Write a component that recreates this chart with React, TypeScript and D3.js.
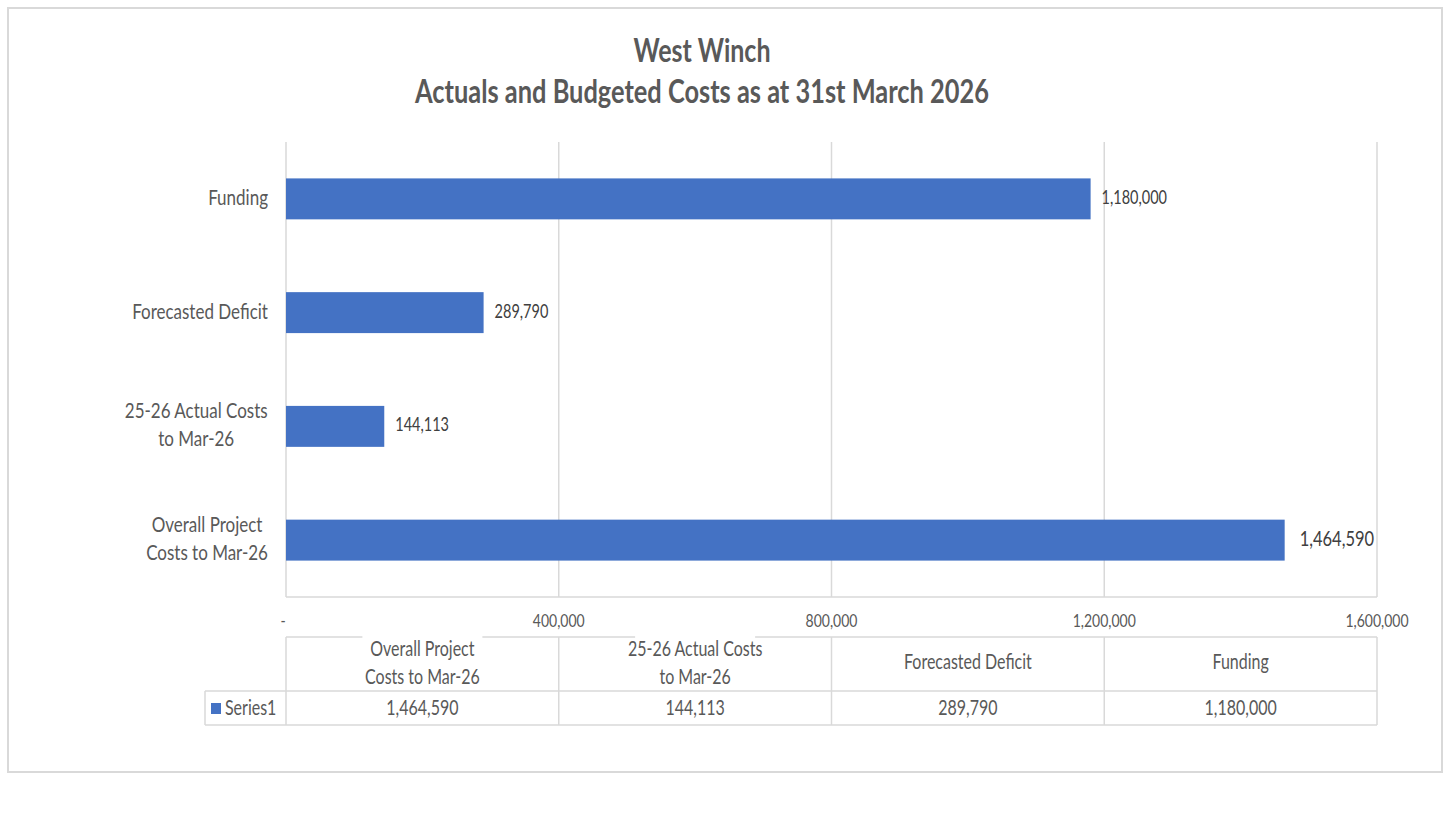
import * as d3 from "d3";

const titleLines = ["West Winch", "Actuals and Budgeted Costs as at 31st March 2026"];
const categories = [
  "Overall Project Costs to Mar-26",
  "25-26 Actual Costs to Mar-26",
  "Forecasted Deficit",
  "Funding",
];
const categoryLines = [
  ["Overall Project", "Costs to Mar-26"],
  ["25-26 Actual Costs", "to Mar-26"],
  ["Forecasted Deficit"],
  ["Funding"],
];
const values = [1464590, 144113, 289790, 1180000];
const xTicks = [0, 400000, 800000, 1200000, 1600000];
const seriesName = "Series1";

const FONT = "Lato, 'Open Sans', sans-serif";
const SY = 1.28; // text in the reference is drawn taller than wide
const GRID = "#d9d9d9";
const TEXT = "#595959";
const BAR = "#4472c4";

const plot = { left: 286, right: 1377, top: 142, bottom: 597 };
const table = { top: 637, mid: 691, bottom: 725, legendLeft: 205 };

const fmt = d3.format(",");
const tickFmt = (v: number) => (v === 0 ? "-" : fmt(v));

// measure text width so wrapped axis labels can be centred in a right-aligned block
let ctx: CanvasRenderingContext2D | null = null;
function textWidth(s: string, size: number) {
  if (!ctx) ctx = document.createElement("canvas").getContext("2d");
  if (!ctx) return s.length * size * 0.48;
  ctx.font = `${size}px Lato, 'Open Sans', sans-serif`;
  return ctx.measureText(s).width;
}

function T({
  x,
  y,
  size,
  anchor = "start",
  fill = TEXT,
  weight = 400,
  children,
}: {
  x: number;
  y: number;
  size: number;
  anchor?: string;
  fill?: string;
  weight?: number;
  children: string;
}) {
  return (
    <text
      transform={`translate(${x},${y}) scale(1,${SY})`}
      fontFamily={FONT}
      fontSize={size}
      fontWeight={weight}
      textAnchor={anchor}
      fill={fill}
    >
      {children}
    </text>
  );
}

export default function App() {
  const x = d3.scaleLinear().domain([0, 1600000]).range([plot.left, plot.right]);

  // Funding on top, Overall at the bottom
  const y = d3
    .scaleBand<string>()
    .domain([...categories].reverse())
    .range([plot.top, plot.bottom])
    .paddingInner(0.64)
    .paddingOuter(0.32);

  // data table columns follow category order
  const col = d3.scaleBand<string>().domain(categories).range([plot.left, plot.right]);

  return (
    <svg
      width={1444}
      height={814}
      style={{ position: "fixed", left: 0, top: 0, background: "#fff" }}
    >
      {/* chart area border */}
      <rect x={8} y={8} width={1434} height={764} fill="#fff" stroke={GRID} strokeWidth={2} />

      {/* title */}
      <T x={702} y={62} size={25} anchor="middle" weight={700}>
        {titleLines[0]}
      </T>
      <T x={702} y={103} size={25.4} anchor="middle" weight={700}>
        {titleLines[1]}
      </T>

      {/* vertical gridlines */}
      {xTicks.map((t) => (
        <line
          key={t}
          x1={x(t)}
          x2={x(t)}
          y1={plot.top}
          y2={plot.bottom}
          stroke={GRID}
          strokeWidth={1.5}
        />
      ))}
      <line x1={plot.left} x2={plot.right} y1={plot.bottom} y2={plot.bottom} stroke={GRID} strokeWidth={1.5} />

      {/* bars */}
      {categories.map((c, i) => (
        <rect
          key={c}
          x={x(0)}
          y={y(c)!}
          width={x(values[i]) - x(0)}
          height={y.bandwidth()}
          fill={BAR}
        />
      ))}

      {/* data labels */}
      {categories.map((c, i) => {
        const big = values[i] === d3.max(values);
        return (
          <T
            key={c}
            x={x(values[i]) + (big ? 15 : 11)}
            y={y(c)! + y.bandwidth() / 2 + (big ? 6 : 5)}
            size={big ? 16.5 : 14.5}
            fill="#404040"
          >
            {fmt(values[i])}
          </T>
        );
      })}

      {/* category axis labels */}
      {categories.map((c, i) => {
        const lines = categoryLines[i];
        const cy = y(c)! + y.bandwidth() / 2;
        const lh = 28;
        const y0 = cy - ((lines.length - 1) * lh) / 2 + 6;
        const w = d3.max(lines, (ln) => textWidth(ln, 17)) ?? 0;
        const cx = 268 - w / 2;
        return lines.map((ln, j) => (
          <T key={c + j} x={cx} y={y0 + j * lh} size={17} anchor="middle">
            {ln}
          </T>
        ));
      })}

      {/* value axis tick labels */}
      {xTicks.map((t) => (
        <T key={t} x={x(t) - (t === 0 ? 3 : 0)} y={627} size={14} anchor="middle">
          {tickFmt(t)}
        </T>
      ))}

      {/* data table */}
      <line x1={plot.left} x2={plot.right} y1={table.top} y2={table.top} stroke={GRID} strokeWidth={1.5} />
      <line x1={table.legendLeft} x2={plot.right} y1={table.mid} y2={table.mid} stroke={GRID} strokeWidth={1.5} />
      <line x1={table.legendLeft} x2={plot.right} y1={table.bottom} y2={table.bottom} stroke={GRID} strokeWidth={1.5} />
      <line x1={table.legendLeft} x2={table.legendLeft} y1={table.mid} y2={table.bottom} stroke={GRID} strokeWidth={1.5} />
      {xTicks.map((t) => (
        <line key={t} x1={x(t)} x2={x(t)} y1={table.top} y2={table.bottom} stroke={GRID} strokeWidth={1.5} />
      ))}
      {categories.map((c, i) => {
        const lines = categoryLines[i];
        const cx = col(c)! + col.bandwidth() / 2;
        const lh = 28;
        const y0 = lines.length > 1 ? 656 : 669;
        return (
          <g key={c}>
            {lines.length > 1 && (
              <rect x={cx - 60} y={table.top - 2} width={120} height={6} fill="#fff" />
            )}
            {lines.map((ln, j) => (
              <T key={j} x={cx} y={y0 + j * lh} size={16} anchor="middle">
                {ln}
              </T>
            ))}
            <T x={cx} y={715} size={16} anchor="middle">
              {fmt(values[i])}
            </T>
          </g>
        );
      })}
      <rect x={211} y={703} width={10} height={11} fill={BAR} />
      <T x={225} y={715} size={16}>
        {seriesName}
      </T>
    </svg>
  );
}
